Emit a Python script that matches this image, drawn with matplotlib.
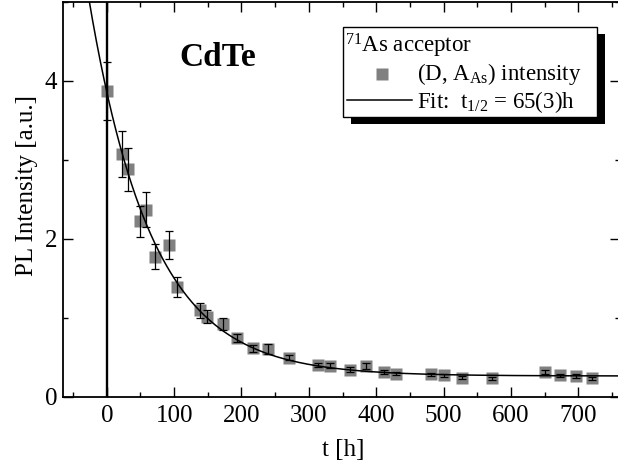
import numpy as np
import matplotlib
matplotlib.use("Agg")
import matplotlib.pyplot as plt
from matplotlib.patches import Rectangle
from matplotlib.lines import Line2D
from matplotlib.ticker import MultipleLocator

plt.rcParams['font.family'] = ['Liberation Serif', 'DejaVu Serif']
plt.rcParams['mathtext.fontset'] = 'custom'
plt.rcParams['mathtext.rm'] = 'Liberation Serif'
plt.rcParams['mathtext.it'] = 'Liberation Serif:italic'
plt.rcParams['mathtext.bf'] = 'Liberation Serif:bold'

# ---- data ----
time_h = [0, 22.7, 31.5, 48.6, 57.6, 72, 91.8, 104, 138, 149, 172, 193, 217,
          240, 271, 314, 331, 361, 385, 411, 429, 481, 500, 527, 572, 651,
          673, 696, 720]
intensity = [3.87, 3.07, 2.88, 2.22, 2.37, 1.77, 1.92, 1.39, 1.09, 1.01, 0.92,
             0.74, 0.61, 0.60, 0.49, 0.40, 0.39, 0.34, 0.39, 0.31, 0.29, 0.28,
             0.27, 0.24, 0.23, 0.31, 0.27, 0.26, 0.23]
intensity_err = [0.37, 0.29, 0.27, 0.20, 0.22, 0.16, 0.18, 0.13, 0.09, 0.08,
                 0.08, 0.05, 0.04, 0.06, 0.03, 0.03, 0.03, 0.03, 0.04, 0.03,
                 0.02, 0.02, 0.02, 0.02, 0.02, 0.03, 0.02, 0.02, 0.02]

# exponential fit parameters
fit_amplitude = 3.6
fit_offset = 0.26
fit_half_life = 65.0

x_major_ticks = [0, 100, 200, 300, 400, 500, 600, 700]
y_major_ticks = [0, 2, 4]

W, H = 618, 468
fig = plt.figure(figsize=(W / 100, H / 100), dpi=100)
ax_l, ax_r, ax_t, ax_b = 63, 620, 2, 396.5
ax = fig.add_axes([ax_l / W, 1 - ax_b / H, (ax_r - ax_l) / W, (ax_b - ax_t) / H])

ax.set_xlim(-65, 762)
ax.set_ylim(0, 5)

# fit curve
t_fit = np.linspace(-65, 762, 1000)
y_fit = fit_amplitude * 2.0 ** (-t_fit / fit_half_life) + fit_offset
ax.plot(t_fit, y_fit, color='black', lw=1.1, zorder=4)

# vertical line at t = 0
ax.axvline(0, color='black', lw=1.7, zorder=4)

# data
ax.plot(time_h, intensity, 's', color='#808080', ms=8.7, mec='none', zorder=2)
ax.errorbar(time_h, intensity, yerr=intensity_err, fmt='none', ecolor='black',
            elinewidth=0.9, capsize=2.6, capthick=0.9, zorder=3)

# ticks
ax.set_xticks(x_major_ticks)
ax.set_yticks(y_major_ticks)
ax.xaxis.set_minor_locator(MultipleLocator(50))
ax.yaxis.set_minor_locator(MultipleLocator(1))
ax.tick_params(which='both', direction='in', top=True, right=True, width=1.0)
ax.tick_params(which='major', length=7)
ax.tick_params(which='minor', length=3.5)
ax.tick_params(axis='x', labelsize=18, pad=6)
ax.tick_params(axis='y', labelsize=18, pad=4)
for s in ax.spines.values():
    s.set_linewidth(1.3)

ax.set_xlabel('t [h]', fontsize=18, va='center')
ax.xaxis.set_label_coords((343 - ax_l) / (ax_r - ax_l), -(450 - ax_b) / (ax_b - ax_t))
ax.set_ylabel('PL Intensity [a.u.]', fontsize=18, va='center')
ax.yaxis.set_label_coords((27 - ax_l) / (ax_r - ax_l), (ax_b - 185) / (ax_b - ax_t))

# CdTe label
ax.text((218 - ax_l) / (ax_r - ax_l), (ax_b - 57) / (ax_b - ax_t), 'CdTe',
        transform=ax.transAxes, fontsize=24, fontweight='bold',
        ha='center', va='center')

# ---- legend (drawn manually, with a black drop shadow) ----
def fx(px):
    return px / W

def fy(py):
    return 1 - py / H

bx0, bx1, by0, by1 = 342.7, 596.7, 27, 117
sdx, sdy = 8, 7
fig.add_artist(Rectangle((fx(bx0 + sdx), fy(by1 + sdy)), (bx1 - bx0) / W, (by1 - by0) / H,
                         transform=fig.transFigure, facecolor='black', edgecolor='none',
                         zorder=10))
fig.add_artist(Rectangle((fx(bx0), fy(by1)), (bx1 - bx0) / W, (by1 - by0) / H,
                         transform=fig.transFigure, facecolor='white', edgecolor='black',
                         lw=1.0, zorder=11))
fs_leg = 16.5
fig.text(fx(345), fy(53), r'$^{71}$As acceptor', fontsize=fs_leg, ha='left', va='baseline', zorder=12)
fig.add_artist(Line2D([fx(381.7)], [fy(74)], marker='s', color='#808080', ms=8.2,
                      mec='none', transform=fig.transFigure, zorder=12))
fig.text(fx(417), fy(80), r'(D, A$_{\mathrm{As}}$) intensity', fontsize=fs_leg,
         ha='left', va='baseline', zorder=12)
fig.add_artist(Line2D([fx(347), fx(412)], [fy(100), fy(100)], color='black', lw=1.1,
                      transform=fig.transFigure, zorder=12))
fig.text(fx(417), fy(108.5), r'Fit:  t$_{\mathrm{1/2}}$ = 65(3)h', fontsize=fs_leg,
         ha='left', va='baseline', zorder=12)

fig.savefig('out.png', dpi=100)
